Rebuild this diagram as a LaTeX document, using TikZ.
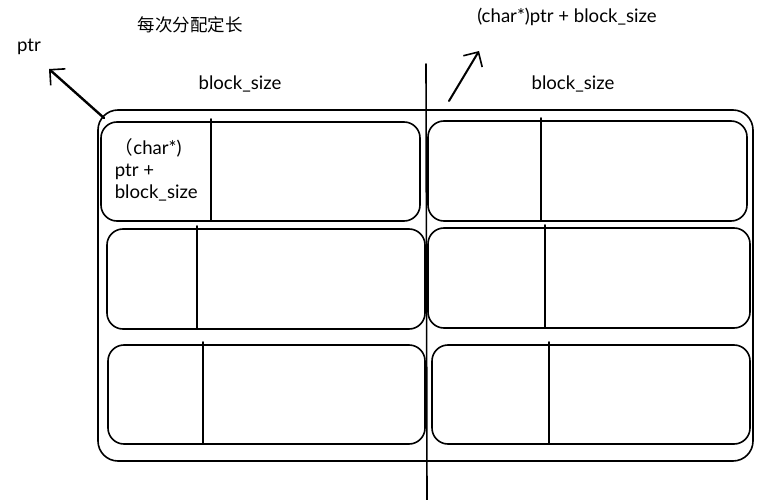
\documentclass[tikz,border=0pt]{standalone}
\usepackage{fontspec}
\setmainfont{Lato}
\newfontfamily\cjk{Noto Sans CJK SC}
\usetikzlibrary{arrows.meta}
\tikzset{
 lbl/.style={inner sep=0pt,font=\fontsize{18.6}{22}\selectfont},
 ptrarrow/.style={line width=2.4pt,-{Straight Barb[length=11pt,width=22pt,line width=1.6pt]}}
}
\begin{document}
\begin{tikzpicture}[x=1pt,y=-1pt,line width=1.6pt,line join=round,line cap=round]
\useasboundingbox (0,0) rectangle (779,500);
\draw[rounded corners=20] (98,110) rectangle (753,461);
\coordinate (divtop) at (426,64);\coordinate (divbot) at (427,500);
\draw (divtop)--(divbot);
\foreach \xa/\ya/\xb/\yb/\xd in {101/122/420/221/211,107/229/425/329/197,108/345/425/444/203,
 428/121/747/221/541,428/228/750/328/545,432/345/750/444/549}{
 \draw[rounded corners=16] (\xa,\ya) rectangle (\xb,\yb);
 \draw (\xd,\ya-3)--(\xd,\yb);
}
\node[lbl,font=\cjk\fontsize{17.5}{20}\selectfont] (title) at (190,25) {每次分配定长};
\node[lbl] (ptr) at (29,47) {ptr};
\node[lbl] (sizeL) at (240,84) {block\_size};
\node[lbl] (sizeR) at (573,84) {block\_size};
\node[lbl] (next) at (567,17) {(char*)ptr + block\_size};
\node[lbl,anchor=west,align=left] (first) at (114,170) {{\cjk （}char*)\\ptr +\\block\_size};
\coordinate (ptrtail) at (104,118);\coordinate (ptrtip) at (49,69);
\coordinate (nexttail) at (449,101);\coordinate (nexttip) at (479,51);
\draw[ptrarrow] (ptrtail)--(ptrtip);
\draw[ptrarrow,line width=2pt] (nexttail)--(nexttip);
\end{tikzpicture}
\end{document}
